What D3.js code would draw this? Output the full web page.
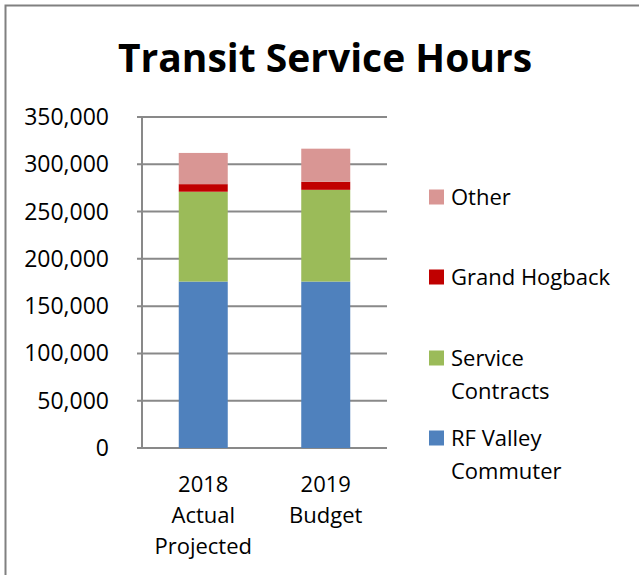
<!DOCTYPE html>
<html>
<head>
<meta charset="utf-8">
<script src="https://cdn.jsdelivr.net/npm/d3@7"></script>
<style>
  body { margin: 0; background: #fff; }
  svg { display: block; font-family: "Open Sans", sans-serif; }
</style>
</head>
<body>
<svg id="chart" width="639" height="575"></svg>
<script>
'use strict'
// categories, one entry per bar, lines of the axis label
const categories = ['2018 Actual Projected', '2019 Budget']
const categoryLines = [['2018', 'Actual', 'Projected'], ['2019', 'Budget']]

// series, bottom to top
const seriesNames = ['RF Valley Commuter', 'Service Contracts', 'Grand Hogback', 'Other']
const rfValley = [176000, 176000]
const serviceContracts = [95000, 97000]
const grandHogback = [8000, 8500]
const other = [33000, 35000]

const yTicks = [0, 50000, 100000, 150000, 200000, 250000, 300000, 350000]

// legend text lines, top to bottom
const legendLines = [['Other'], ['Grand Hogback'], ['Service', 'Contracts'], ['RF Valley', 'Commuter']]

window.onload = function() {
    const svg = d3.select('#chart'),
        plot = {left: 142, right: 387, top: 117, bottom: 448},
        color = d3.scaleOrdinal()
          .domain(seriesNames)
          .range(['#4f81bd', '#9bbb59', '#c00000', '#d99694']),
        gridColor = '#898989'

    const rows = categories.map((c, i) => ({
        cat: c,
        'RF Valley Commuter': rfValley[i],
        'Service Contracts': serviceContracts[i],
        'Grand Hogback': grandHogback[i],
        'Other': other[i]
    }))
    const stacked = d3.stack().keys(seriesNames)(rows)

    const x = d3.scaleBand()
        .domain(categories)
        .range([plot.left, plot.right])
        .padding(0)
    const y = d3.scaleLinear()
        .domain([0, 350000])
        .range([plot.bottom, plot.top])
    const barW = x.bandwidth() * 0.4

    // outer frame (runs past right / bottom edge)
    svg.append('rect')
      .attr('x', 5.5).attr('y', 5.5)
      .attr('width', 700).attr('height', 700)
      .attr('fill', 'none')
      .attr('stroke', '#808080')
      .attr('stroke-width', 2)

    // title
    svg.append('text')
      .attr('x', 325).attr('y', 72)
      .attr('text-anchor', 'middle')
      .attr('font-size', 39)
      .attr('font-weight', 'bold')
      .attr('fill', '#000')
      .text('Transit Service Hours')

    // gridlines
    svg.append('g').selectAll('line')
      .data(yTicks)
      .enter().append('line')
      .attr('x1', plot.left - 5).attr('x2', plot.right)
      .attr('y1', d => y(d)).attr('y2', d => y(d))
      .attr('stroke', gridColor)
      .attr('stroke-width', 2)

    // y axis line
    svg.append('line')
      .attr('x1', plot.left).attr('x2', plot.left)
      .attr('y1', plot.top).attr('y2', plot.bottom + 1)
      .attr('stroke', gridColor)
      .attr('stroke-width', 2)

    // y labels
    const fmt = d3.format(',')
    svg.append('g').selectAll('text')
      .data(yTicks)
      .enter().append('text')
      .attr('x', 109)
      .attr('y', d => y(d))
      .attr('dy', '0.35em')
      .attr('text-anchor', 'end')
      .attr('font-size', 23)
      .attr('fill', '#000')
      .text(d => fmt(d))

    // bars
    svg.append('g').selectAll('g')
      .data(stacked)
      .enter().append('g')
      .attr('fill', d => color(d.key))
      .selectAll('rect')
      .data(d => d)
      .enter().append('rect')
      .attr('x', d => x(d.data.cat) + (x.bandwidth() - barW) / 2)
      .attr('y', d => y(d[1]))
      .attr('width', barW)
      .attr('height', d => y(d[0]) - y(d[1]))

    // x labels
    const xl = svg.append('g').selectAll('text')
      .data(categories)
      .enter().append('text')
      .attr('text-anchor', 'middle')
      .attr('font-size', 22)
      .attr('fill', '#000')
    xl.selectAll('tspan')
      .data((d, i) => categoryLines[i].map(t => [d, t]))
      .enter().append('tspan')
      .attr('x', d => x(d[0]) + x.bandwidth() / 2)
      .attr('y', (d, i) => 492 + i * 31)
      .text(d => d[1])

    // legend
    const legendY = [197, 277, 358, 438]
    const lg = svg.append('g').selectAll('g')
      .data(seriesNames.slice().reverse())
      .enter().append('g')
      .attr('transform', (d, i) => 'translate(429,' + legendY[i] + ')')
    lg.append('rect')
      .attr('x', 0).attr('y', -7.5)
      .attr('width', 15).attr('height', 15)
      .attr('fill', d => color(d))
    lg.append('text')
      .attr('font-size', 22)
      .attr('fill', '#000')
      .selectAll('tspan')
      .data((d, i) => legendLines[i])
      .enter().append('tspan')
      .attr('x', 22)
      .attr('y', (d, i) => i * 33)
      .attr('dy', '0.35em')
      .text(d => d)
}
</script>
</body>
</html>
